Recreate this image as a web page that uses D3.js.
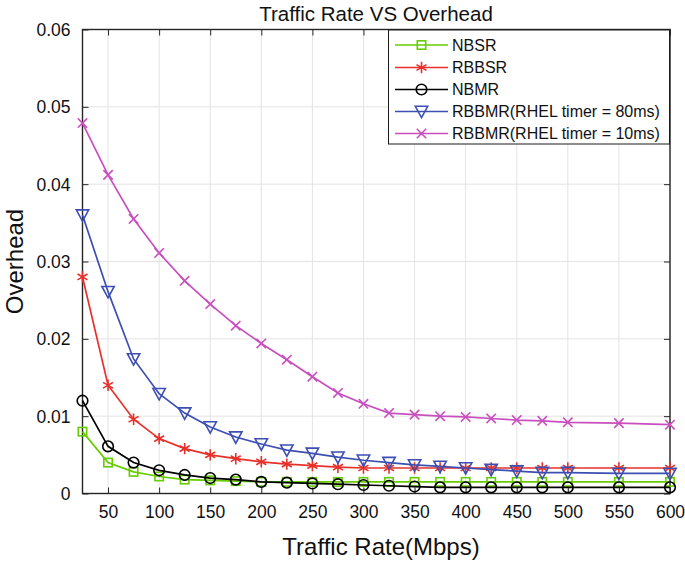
<!DOCTYPE html>
<html>
<head>
<meta charset="utf-8">
<script src="https://cdn.jsdelivr.net/npm/d3@7/dist/d3.min.js"></script>
<style>
  html, body { margin: 0; padding: 0; background: #fff; }
  svg { display: block; font-family: "Liberation Sans", Arial, sans-serif; }
</style>
</head>
<body>
<svg id="chart" width="685" height="564"></svg>
<script>
// ---- Data ----
const rates = [25, 50, 75, 100, 125, 150, 175, 200, 225, 250, 275, 300, 325, 350, 375, 400, 425, 450, 475, 500, 550, 600];
const nbsr   = [0.0080, 0.0040, 0.0028, 0.0022, 0.0018, 0.0017, 0.0016, 0.0015, 0.0015, 0.0015, 0.0015, 0.0015, 0.0015, 0.0015, 0.0015, 0.0015, 0.0015, 0.0015, 0.0015, 0.0015, 0.0015, 0.0015];
const rbbsr  = [0.0280, 0.0140, 0.0096, 0.0071, 0.0058, 0.0050, 0.0045, 0.0041, 0.0038, 0.0036, 0.0034, 0.0033, 0.0033, 0.0033, 0.0033, 0.0033, 0.0033, 0.0033, 0.0033, 0.0033, 0.0033, 0.0033];
const nbmr   = [0.0120, 0.0061, 0.0040, 0.0030, 0.0024, 0.0020, 0.0018, 0.0015, 0.0014, 0.0013, 0.0012, 0.0011, 0.0010, 0.0009, 0.0008, 0.0008, 0.0008, 0.0008, 0.0008, 0.0008, 0.0008, 0.0008];
const rbbmr80 = [0.0360, 0.0261, 0.0174, 0.0129, 0.0104, 0.0086, 0.0073, 0.0064, 0.0056, 0.0052, 0.0047, 0.0043, 0.0040, 0.0037, 0.0035, 0.0033, 0.0031, 0.0029, 0.0027, 0.0027, 0.0026, 0.0026];
const rbbmr10 = [0.0479, 0.0412, 0.0355, 0.0311, 0.0275, 0.0245, 0.0217, 0.0194, 0.0173, 0.0151, 0.0130, 0.0116, 0.0104, 0.0102, 0.0100, 0.0099, 0.0097, 0.0095, 0.0094, 0.0092, 0.0091, 0.0089];
const seriesNames = ["NBSR", "RBBSR", "NBMR", "RBBMR(RHEL timer = 80ms)", "RBBMR(RHEL timer = 10ms)"];
const seriesValues = [nbsr, rbbsr, nbmr, rbbmr80, rbbmr10];
const seriesColors = ["#66cc00", "#e8302a", "#000000", "#3d4fb2", "#c94fbf"];
const seriesMarkers = ["square", "asterisk", "circle", "triangle", "cross"];
const xTicks = [50, 100, 150, 200, 250, 300, 350, 400, 450, 500, 550, 600];
const yTicks = [0, 0.01, 0.02, 0.03, 0.04, 0.05, 0.06];
const titleText = "Traffic Rate VS Overhead";
const xLabel = "Traffic Rate(Mbps)";
const yLabel = "Overhead";

// ---- Layout ----
const L = 82.5, R = 670, T = 29.5, B = 493.5;
const svg = d3.select("#chart");
const x = d3.scaleLinear().domain([25, 600]).range([L, R]);
const y = d3.scaleLinear().domain([0, 0.06]).range([B, T]);

// grid
const grid = svg.append("g");
grid.selectAll("line.gx").data(xTicks).join("line")
  .attr("x1", d => x(d)).attr("x2", d => x(d)).attr("y1", T).attr("y2", B)
  .attr("stroke", "#e3e3e3").attr("stroke-width", 1);
grid.selectAll("line.gy").data(yTicks).join("line")
  .attr("y1", d => y(d)).attr("y2", d => y(d)).attr("x1", L).attr("x2", R)
  .attr("stroke", "#e3e3e3").attr("stroke-width", 1);

// axes (ticks inward)
const xAxisB = d3.axisBottom(x).tickValues(xTicks).tickSizeInner(-6).tickSizeOuter(0).tickPadding(12).tickFormat(d3.format("d"));
const xAxisT = d3.axisTop(x).tickValues(xTicks).tickSizeInner(-6).tickSizeOuter(0).tickFormat("");
const yAxisL = d3.axisLeft(y).tickValues(yTicks).tickSizeInner(-6).tickSizeOuter(0).tickPadding(12).tickFormat(d => d === 0 ? "0" : d3.format(".2f")(d));
const yAxisR = d3.axisRight(y).tickValues(yTicks).tickSizeInner(-6).tickSizeOuter(0).tickFormat("");

function styleAxis(g) {
  g.select(".domain").remove();
  g.selectAll(".tick line").attr("stroke", "#262626").attr("stroke-width", 1);
  g.selectAll(".tick text").attr("fill", "#111").style("font-size", "17.5px").style("font-family", "'Liberation Sans', Arial, sans-serif");
}
svg.append("g").attr("transform", `translate(0,${B})`).call(xAxisB).call(styleAxis);
svg.append("g").attr("transform", `translate(0,${T})`).call(xAxisT).call(styleAxis);
svg.append("g").attr("transform", `translate(${L},0)`).call(yAxisL).call(styleAxis)
  .selectAll(".tick text").attr("dy", "0.35em");
svg.append("g").attr("transform", `translate(${R},0)`).call(yAxisR).call(styleAxis);

// box
svg.append("rect").attr("x", L).attr("y", T).attr("width", R - L).attr("height", B - T)
  .attr("fill", "none").attr("stroke", "#262626").attr("stroke-width", 1.4);

// marker drawing
function drawMarker(g, type, color, cx, cy) {
  const s = g.append("g").attr("transform", `translate(${cx},${cy})`);
  const sw = 1.6;
  if (type === "square") {
    s.append("rect").attr("x", -4.2).attr("y", -4.2).attr("width", 8.4).attr("height", 8.4)
      .attr("fill", "none").attr("stroke", color).attr("stroke-width", sw);
  } else if (type === "circle") {
    s.append("circle").attr("r", 5.3).attr("fill", "none").attr("stroke", color).attr("stroke-width", sw);
  } else if (type === "triangle") {
    s.append("path").attr("d", "M-6.2,-5.2 L6.2,-5.2 L0,6.2 Z").attr("fill", "none").attr("stroke", color).attr("stroke-width", sw);
  } else if (type === "cross") {
    s.append("path").attr("d", "M-4.7,-4.7 L4.7,4.7 M-4.7,4.7 L4.7,-4.7").attr("stroke", color).attr("stroke-width", sw);
  } else if (type === "asterisk") {
    s.append("path").attr("d", "M0,-5.7 L0,5.7 M-5,-2.9 L5,2.9 M-5,2.9 L5,-2.9").attr("stroke", color).attr("stroke-width", sw);
  }
}

// series
const line = d3.line().x((d, i) => x(rates[i])).y(d => y(d));
seriesValues.forEach((vals, k) => {
  const g = svg.append("g");
  g.append("path").datum(vals).attr("d", line).attr("fill", "none")
    .attr("stroke", seriesColors[k]).attr("stroke-width", 1.7);
  vals.forEach((v, i) => drawMarker(g, seriesMarkers[k], seriesColors[k], x(rates[i]), y(v)));
});

// legend
const lg = svg.append("g");
lg.append("rect").attr("x", 388.5).attr("y", 30).attr("width", 281).attr("height", 114)
  .attr("fill", "#fff").attr("stroke", "#1a1a1a").attr("stroke-width", 1);
const rowY = [45, 67.5, 89.5, 111.5, 133.5];
seriesNames.forEach((n, k) => {
  const yy = rowY[k];
  lg.append("line").attr("x1", 395).attr("x2", 448).attr("y1", yy).attr("y2", yy)
    .attr("stroke", seriesColors[k]).attr("stroke-width", 1.7);
  drawMarker(lg, seriesMarkers[k], seriesColors[k], 421.5, yy);
  lg.append("text").attr("x", 452).attr("y", yy + 5.8).attr("fill", "#111")
    .style("font-size", "16px").text(n);
});

// title and labels
svg.append("text").attr("x", 376).attr("y", 21).attr("text-anchor", "middle")
  .attr("fill", "#111").style("font-size", "20.5px").text(titleText);
svg.append("text").attr("x", 381).attr("y", 555).attr("text-anchor", "middle")
  .attr("fill", "#111").style("font-size", "24px").text(xLabel);
svg.append("text").attr("transform", "translate(23,261.5) rotate(-90)").attr("text-anchor", "middle")
  .attr("fill", "#111").style("font-size", "24px").text(yLabel);
</script>
</body>
</html>
